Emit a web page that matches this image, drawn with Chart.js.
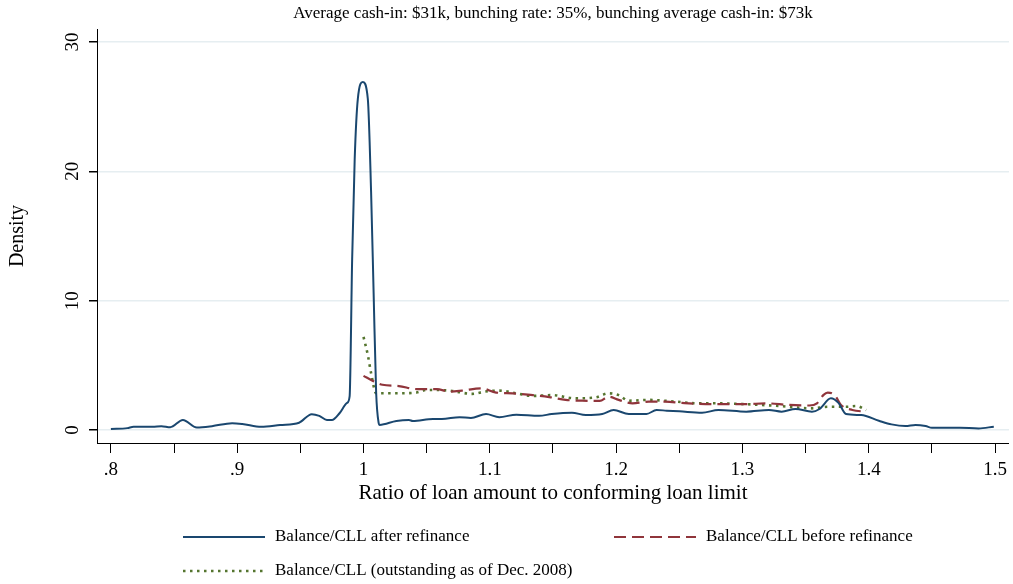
<!DOCTYPE html>
<html>
<head>
<meta charset="utf-8">
<script src="https://cdn.jsdelivr.net/npm/chart.js@4"></script>
<style>
  body { margin: 0; background: #fff; }
  canvas { display: block; }
</style>
</head>
<body>
<canvas id="densityPlot" width="1013" height="584"></canvas>
<script>
// Header note and axis titles
var noteText = 'Average cash-in: $31k, bunching rate: 35%, bunching average cash-in: $73k';
var xTitle = 'Ratio of loan amount to conforming loan limit';
var yTitle = 'Density';

// Balance/CLL after refinance
var afterX = [0.800, 0.813, 0.818, 0.833, 0.840, 0.847, 0.857, 0.868, 0.880, 0.896, 0.904, 0.919, 0.934, 0.949,
  0.959, 0.965, 0.971, 0.975, 0.981, 0.987, 0.989, 0.991, 0.993, 0.9955, 0.9995, 1.0034, 1.006, 1.008, 1.010,
  1.012, 1.0127, 1.026, 1.036, 1.039, 1.055, 1.062, 1.076, 1.085, 1.097, 1.1075, 1.121, 1.139, 1.149, 1.165,
  1.176, 1.189, 1.198, 1.210, 1.224, 1.232, 1.240, 1.250, 1.268, 1.281, 1.303, 1.321, 1.331, 1.342, 1.355,
  1.361, 1.370, 1.376, 1.382, 1.394, 1.408, 1.418, 1.429, 1.437, 1.445, 1.450, 1.472, 1.487, 1.499];
var afterY = [0.08, 0.15, 0.25, 0.25, 0.30, 0.22, 0.78, 0.20, 0.30, 0.53, 0.47, 0.25, 0.39, 0.57,
  1.23, 1.10, 0.78, 0.78, 1.30, 2.10, 2.60, 13.2, 20.9, 25.6, 26.9, 25.6, 18.4, 10.6, 2.9,
  0.54, 0.40, 0.70, 0.78, 0.70, 0.85, 0.85, 1.00, 0.93, 1.24, 1.00, 1.19, 1.10, 1.24, 1.34,
  1.16, 1.24, 1.55, 1.24, 1.24, 1.55, 1.50, 1.45, 1.34, 1.55, 1.42, 1.55, 1.42, 1.63, 1.42,
  1.63, 2.45, 2.10, 1.24, 1.16, 0.72, 0.44, 0.31, 0.39, 0.31, 0.18, 0.18, 0.13, 0.26];

// Balance/CLL before refinance
var beforeX = [1.000, 1.0074, 1.015, 1.028, 1.042, 1.058, 1.068, 1.078, 1.093, 1.105, 1.118, 1.134, 1.147,
  1.160, 1.173, 1.187, 1.194, 1.202, 1.213, 1.226, 1.239, 1.252, 1.276, 1.303, 1.318, 1.337, 1.353, 1.359,
  1.364, 1.3675, 1.373, 1.378, 1.387, 1.398];
var beforeY = [4.19, 3.8, 3.5, 3.4, 3.17, 3.17, 2.97, 3.05, 3.23, 2.9, 2.84, 2.7, 2.55,
  2.33, 2.27, 2.25, 2.58, 2.33, 2.07, 2.2, 2.2, 2.1, 2.0, 2.0, 2.07, 1.94, 1.9, 2.07,
  2.7, 2.9, 2.7, 1.94, 1.55, 1.42];

// Balance/CLL (outstanding as of Dec. 2008)
var outstandingX = [1.000, 1.0034, 1.006, 1.010, 1.028, 1.042, 1.050, 1.068, 1.086, 1.096, 1.107, 1.121, 1.134,
  1.149, 1.168, 1.184, 1.194, 1.202, 1.210, 1.226, 1.247, 1.264, 1.276, 1.303, 1.329, 1.355, 1.368, 1.382,
  1.390, 1.398];
var outstandingY = [7.2, 5.8, 4.4, 2.84, 2.84, 2.9, 3.1, 3.05, 2.8, 2.97, 3.05, 2.84, 2.64,
  2.7, 2.45, 2.53, 2.84, 2.7, 2.27, 2.33, 2.2, 2.07, 2.07, 2.0, 1.86, 1.68, 1.8, 1.8,
  1.86, 1.55];

var seriesLabels = ['Balance/CLL after refinance', 'Balance/CLL before refinance',
  'Balance/CLL (outstanding as of Dec. 2008)'];

function toPoints(xs, ys) {
    return xs.map(function (x, i) { return { x: x, y: ys[i] }; });
}

// x tick labels in the ".8 .9 1 1.1" style, blank at the half steps
function xTickLabel(v) {
    if (Math.abs(v * 10 - Math.round(v * 10)) > 1e-6) return '';
    var s = String(Math.round(v * 10) / 10);
    return s.charAt(0) === '0' ? s.substring(1) : s;
}

var serif = '"Liberation Serif", "Times New Roman", serif';
Chart.defaults.font.family = serif;
Chart.defaults.color = '#000';

// note above the plot, centred over the plot region
var notePlugin = {
    id: 'note',
    afterDraw: function (chart) {
        var ctx = chart.ctx, area = chart.chartArea;
        ctx.save();
        ctx.font = '17px ' + serif;
        ctx.fillStyle = '#000';
        ctx.textAlign = 'center';
        ctx.textBaseline = 'middle';
        ctx.fillText(noteText, (area.left + area.right) / 2, 14);
        ctx.restore();
    }
};

// Stata-like legend below the axis title, two columns
var legendPlugin = {
    id: 'stataLegend',
    afterDraw: function (chart) {
        var ctx = chart.ctx;
        var slots = [{ x: 183, y: 537 }, { x: 614, y: 537 }, { x: 183, y: 571 }];
        ctx.save();
        ctx.font = '17px ' + serif;
        ctx.textBaseline = 'middle';
        ctx.textAlign = 'left';
        chart.data.datasets.forEach(function (ds, i) {
            var s = slots[i];
            ctx.strokeStyle = ds.borderColor;
            ctx.lineWidth = ds.borderWidth;
            ctx.setLineDash(ds.borderDash || []);
            ctx.beginPath();
            ctx.moveTo(s.x, s.y);
            ctx.lineTo(s.x + 82, s.y);
            ctx.stroke();
            ctx.setLineDash([]);
            ctx.fillStyle = '#000';
            ctx.fillText(ds.label, s.x + 92, s.y);
        });
        ctx.restore();
    }
};

var ctx = document.getElementById('densityPlot').getContext('2d');
var chart = new Chart(ctx, {
    type: 'line',
    data: {
        datasets: [{
            label: seriesLabels[0],
            data: toPoints(afterX, afterY),
            borderColor: '#1a476f',
            borderWidth: 2,
            pointRadius: 0,
            cubicInterpolationMode: 'monotone',
            fill: false
        }, {
            label: seriesLabels[1],
            data: toPoints(beforeX, beforeY),
            borderColor: '#90353b',
            borderWidth: 2.2,
            borderDash: [12, 6],
            pointRadius: 0,
            cubicInterpolationMode: 'monotone',
            fill: false
        }, {
            label: seriesLabels[2],
            data: toPoints(outstandingX, outstandingY),
            borderColor: '#55752f',
            borderWidth: 2.6,
            borderDash: [2.5, 4.5],
            pointRadius: 0,
            cubicInterpolationMode: 'monotone',
            fill: false
        }]
    },
    options: {
        responsive: false,
        animation: false,
        events: [],
        layout: { padding: { left: 0, right: 3, top: 29, bottom: 71 } },
        plugins: {
            legend: { display: false },
            tooltip: { enabled: false }
        },
        scales: {
            x: {
                type: 'linear',
                min: 0.789,
                max: 1.511,
                border: { display: true, color: '#000', width: 1 },
                grid: { drawOnChartArea: false, drawTicks: true, tickLength: 10, tickColor: '#000' },
                ticks: {
                    stepSize: 0.05,
                    includeBounds: false,
                    autoSkip: false,
                    maxRotation: 0,
                    padding: 6,
                    font: { size: 19 },
                    callback: function (v) { return xTickLabel(v); }
                },
                title: { display: true, text: xTitle, font: { size: 21 }, padding: { top: 0, bottom: 7 } },
                afterFit: function (scale) { scale.height = 70; }
            },
            y: {
                min: -1,
                max: 31,
                border: { display: true, color: '#000', width: 1 },
                grid: { color: '#e6eef1', lineWidth: 1.5, tickLength: 8, tickColor: '#000' },
                ticks: {
                    stepSize: 10,
                    includeBounds: false,
                    minRotation: 90,
                    maxRotation: 90,
                    crossAlign: 'center',
                    padding: 6,
                    font: { size: 19 }
                },
                title: { display: true, text: yTitle, font: { size: 20 }, padding: { top: 6, bottom: 0 } },
                afterFit: function (scale) { scale.width = 97; }
            }
        }
    },
    plugins: [notePlugin, legendPlugin]
});
</script>
</body>
</html>
